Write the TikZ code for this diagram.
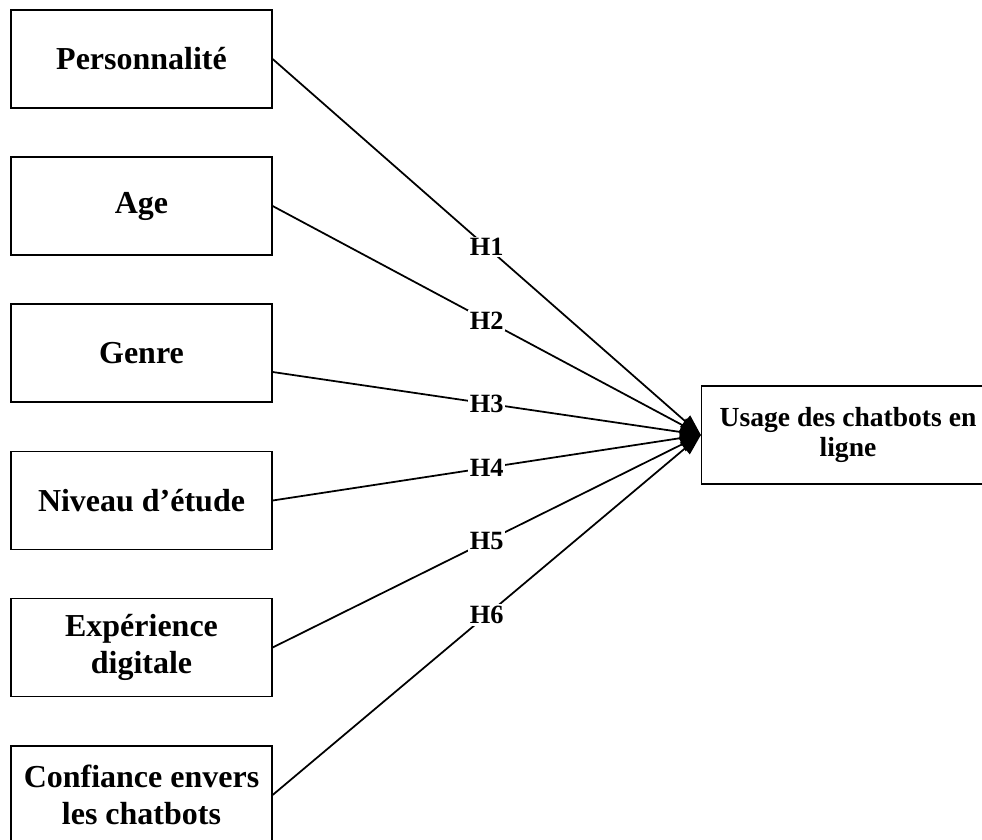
\documentclass[tikz,border=0pt]{standalone}
\usepackage{fontspec}
\setmainfont{Liberation Serif}
\usepackage{tikz}
\usetikzlibrary{calc, arrows.meta}

\tikzset{
  varbox/.style={draw, line width=0.7pt, minimum width=5.22cm, minimum height=1.96cm,
    align=center, font=\fontsize{18.2}{21}\selectfont\bfseries},
  hyp/.style={fill=white, inner sep=1pt, font=\fontsize{15}{17}\selectfont\bfseries},
  arr/.style={-{Triangle[length=0.42cm,width=0.3cm]}, line width=1pt}
}

\begin{document}
\begin{tikzpicture}
\clip (0,0) rectangle (19.64,-16.78);

%%% variables
\node[varbox] (perso) at (2.83,-1.18) {Personnalit\'e};
\node[varbox] (age) at (2.83,-4.12) {Age};
\node[varbox] (genre) at (2.83,-7.06) {Genre};
\node[varbox] (niveau) at (2.83,-10.01) {Niveau d’\'etude};
\node[varbox] (experience) at (2.83,-12.95) {Exp\'erience\\digitale};
\node[varbox] (confiance) at (2.83,-15.90) {Confiance envers\\les chatbots};

%%% usage
\node[varbox, minimum width=5.86cm, font=\fontsize{15.7}{17}\selectfont\bfseries] (usage) at (16.96,-8.70) {Usage des chatbots en\\ligne};

%%% hypotheses
\draw[arr] (perso.east) -- node[hyp] {H1} (usage.west);
\draw[arr] (age.east) -- node[hyp] {H2} (usage.west);
\draw[arr] ([yshift=-0.38cm]genre.east) -- node[hyp] {H3} (usage.west);
\draw[arr] (niveau.east) -- node[hyp] {H4} (usage.west);
\draw[arr] (experience.east) -- node[hyp] {H5} (usage.west);
\draw[arr] (confiance.east) -- node[hyp] {H6} (usage.west);

\end{tikzpicture}
\end{document}
